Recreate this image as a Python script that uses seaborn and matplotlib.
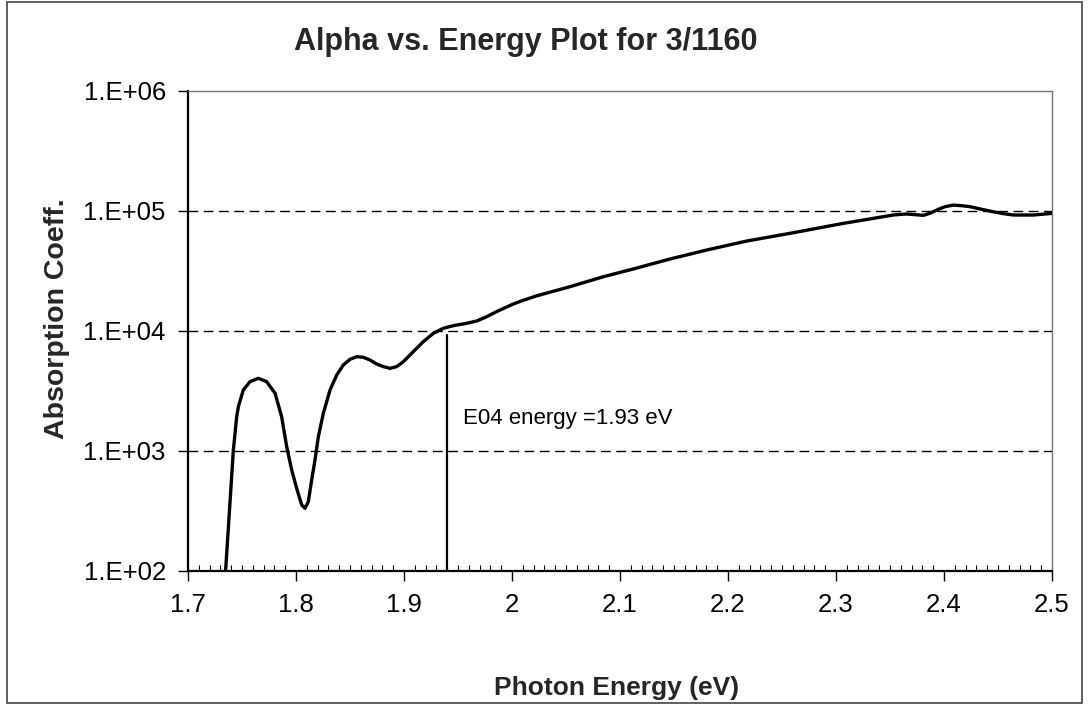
import matplotlib
matplotlib.use("Agg")
import matplotlib.pyplot as plt
import seaborn as sns
import pandas as pd
from matplotlib.patches import Rectangle
from matplotlib.ticker import FixedLocator, MultipleLocator, FixedFormatter, NullLocator

# ---- data ----
energy = [1.7348, 1.7420, 1.7451, 1.7466, 1.7512, 1.7574, 1.7651, 1.7728, 1.7806,
          1.7867, 1.7914, 1.7960, 1.8006, 1.8053, 1.8083, 1.8114, 1.8145, 1.8176,
          1.8207, 1.8253, 1.8315, 1.8377, 1.8438, 1.8500, 1.8562, 1.8624, 1.8685,
          1.8747, 1.8809, 1.8870, 1.8932, 1.8994, 1.9086, 1.9179, 1.9272, 1.9364,
          1.9457, 1.9580, 1.9673, 1.9766, 1.9858, 2.0012, 2.0105, 2.0228, 2.0537,
          2.0846, 2.1123, 2.1463, 2.1803, 2.2173, 2.2605, 2.3068, 2.3531, 2.3593,
          2.3654, 2.3747, 2.3808, 2.3870, 2.3932, 2.4009, 2.4086, 2.4164, 2.4241,
          2.4349, 2.4457, 2.4549, 2.4642, 2.4827, 2.5000]
alpha = [100, 1019, 1932, 2339, 3222, 3783, 4036, 3783, 3027,
         1932, 1086, 695, 489, 355, 333, 378, 573, 841,
         1316, 2061, 3222, 4300, 5208, 5807, 6110, 6036, 5730,
         5309, 5047, 4887, 5047, 5548, 6727, 8152, 9564, 10530,
         11080, 11590, 12115, 13160, 14520, 16790, 18030, 19630, 23400,
         28340, 32870, 39800, 47300, 56200, 65900, 78900, 92600, 93700,
         94400, 93000, 92000, 95700, 101900, 108600, 112000, 110700, 108600,
         103300, 98500, 95100, 92600, 92600, 95500]

e04_line_x = [1.9395, 1.9395]
e04_line_y = [100, 9300]
e04_label = "E04 energy =1.93 eV"

x_ticks = [1.7, 1.8, 1.9, 2.0, 2.1, 2.2, 2.3, 2.4, 2.5]
x_tick_labels = ["1.7", "1.8", "1.9", "2", "2.1", "2.2", "2.3", "2.4", "2.5"]
y_ticks = [1e2, 1e3, 1e4, 1e5, 1e6]
y_tick_labels = ["1.E+02", "1.E+03", "1.E+04", "1.E+05", "1.E+06"]

title = "Alpha vs. Energy Plot for 3/1160"
x_label = "Photon Energy (eV)"
y_label = "Absorption Coeff."

# ---- styling ----
sns.set_style("white")
plt.rcParams["font.family"] = ["Liberation Sans", "DejaVu Sans"]

fig = plt.figure(figsize=(10.88, 7.04), dpi=100)
ax = fig.add_axes([188 / 1088, 1 - 571 / 704, (1052 - 188) / 1088, (571 - 91) / 704])

df = pd.DataFrame({"Photon Energy": energy, "Alpha": alpha})
sns.lineplot(data=df, x="Photon Energy", y="Alpha", ax=ax, color="black",
             linewidth=2.4, sort=False, estimator=None, zorder=5)
for ln in ax.lines:
    ln.set_solid_joinstyle("round")
    ln.set_solid_capstyle("round")
ax.plot(e04_line_x, e04_line_y, color="black", linewidth=1.6, zorder=4)

ax.set_yscale("log")
ax.set_xlim(1.7, 2.5)
ax.set_ylim(1e2, 1e6)

ax.xaxis.set_major_locator(FixedLocator(x_ticks))
ax.xaxis.set_major_formatter(FixedFormatter(x_tick_labels))
ax.xaxis.set_minor_locator(MultipleLocator(0.01))
ax.yaxis.set_major_locator(FixedLocator(y_ticks))
ax.yaxis.set_major_formatter(FixedFormatter(y_tick_labels))
ax.yaxis.set_minor_locator(NullLocator())

ax.tick_params(axis="x", which="major", direction="out", length=7, width=1.0,
               colors="black", labelsize=18.5, pad=9, bottom=True)
ax.tick_params(axis="x", which="minor", direction="in", length=4, width=0.8,
               colors="black", bottom=True)
ax.tick_params(axis="y", which="major", direction="out", length=7, width=1.0,
               colors="black", labelsize=18.5, pad=9, left=True)

for yv in y_ticks[1:-1]:
    ax.axhline(yv, color="black", linewidth=1.0, linestyle=(0, (7, 4)), zorder=1)

ax.set_xlabel("")
ax.set_ylabel("")
ax.grid(False)

for side in ["left", "bottom"]:
    ax.spines[side].set_color("black")
    ax.spines[side].set_linewidth(1.6)
for side in ["top", "right"]:
    ax.spines[side].set_color("#777777")
    ax.spines[side].set_linewidth(1.0)
    ax.spines[side].set_linestyle((0, (1, 1)))

ax.text(1.9543, 1848, e04_label, fontsize=16, ha="left", va="center", color="black")

fig.text(526 / 1088, 1 - 42 / 704, title, fontsize=22, fontweight="bold",
         ha="center", va="center")
fig.text(617 / 1088, 1 - 688 / 704, x_label, fontsize=19, fontweight="bold",
         ha="center", va="center")
fig.text(57 / 1088, 1 - 319 / 704, y_label, fontsize=20.5, fontweight="bold",
         ha="center", va="center", rotation=90)

fig.patches.append(Rectangle((7 / 1088, 1 / 704), (1082 - 7) / 1088, (702 - 1) / 704,
                             transform=fig.transFigure, fill=False,
                             edgecolor="#444444", linewidth=1.2))

fig.savefig("out.png", dpi=100, facecolor="white")
